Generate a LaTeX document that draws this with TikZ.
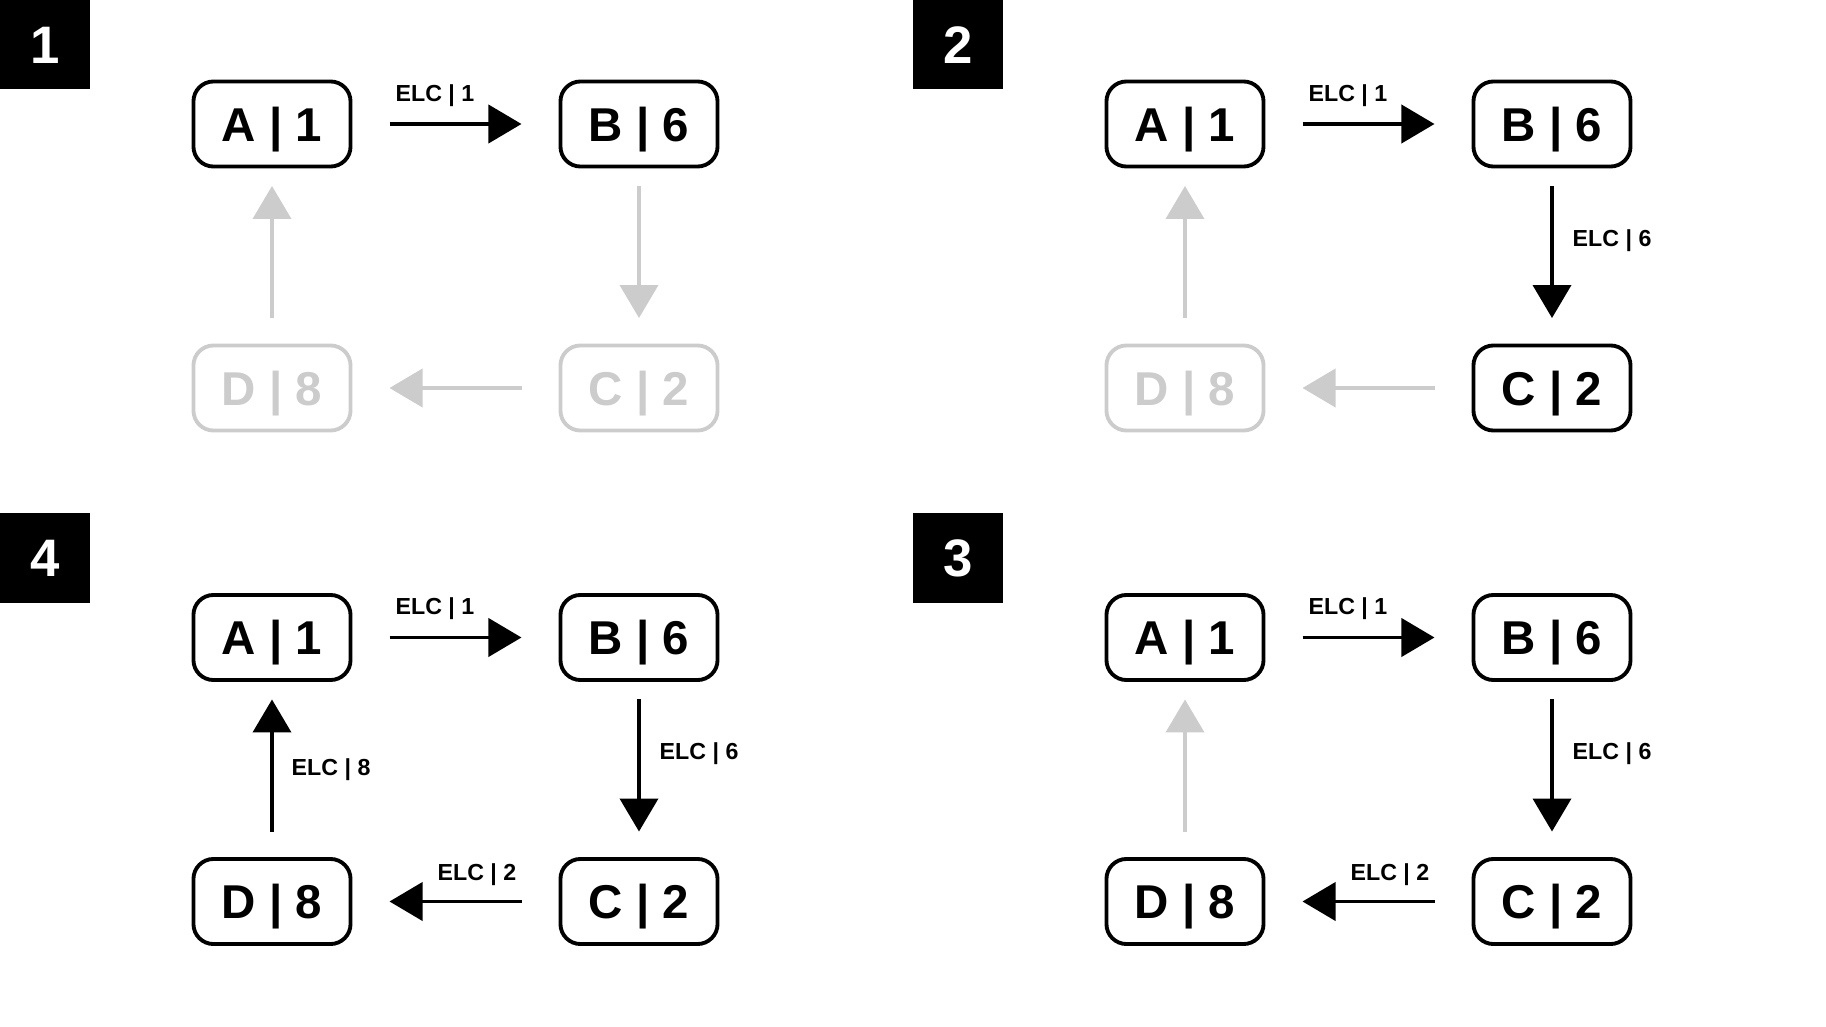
\documentclass[tikz,border=0pt]{standalone}
\usepackage{fontspec}
\setmainfont{Liberation Sans}
\usetikzlibrary{arrows.meta}
\definecolor{faded}{HTML}{CCCCCC}
\tikzset{
  cell/.style={draw, line width=1.1pt, rounded corners=0.2cm, minimum width=1.57cm, minimum height=0.85cm, inner sep=0pt, text height=9.7pt, text depth=0pt, font=\fontsize{13.5}{14}\selectfont\bfseries},
  greyed/.style={draw=faded, text=faded},
  link/.style={line width=1.1pt, -{Triangle[length=0.33cm,width=0.38cm]}},
  hlink/.style={shorten <=0.37cm, shorten >=0.37cm},
  vdown/.style={shorten <=0.175cm, shorten >=0.255cm},
  vup/.style={shorten <=0.255cm, shorten >=0.175cm},
  elc/.style={font=\fontsize{6.6}{7}\selectfont\bfseries, inner sep=0pt, text height=4.7pt, text depth=0pt},
  stage/.style={fill=black, text=white, minimum width=0.9cm, minimum height=0.89cm, inner sep=0pt, text height=10.7pt, text depth=0pt, font=\fontsize{15}{16}\selectfont\bfseries}
}
\begin{document}
\begin{tikzpicture}[x=0.01cm, y=-0.01cm]
\useasboundingbox (0,0) rectangle (1826,1027);

% step 1
\node[stage] (s1) at (45,44.5) {1};
\node[cell] (a1) at (272,124) {A | 1};
\node[cell] (b1) at (639,124) {B | 6};
\node[cell, greyed] (c1) at (639,388) {C | 2};
\node[cell, greyed] (d1) at (272,388) {D | 8};
\node[elc] (ab1) at (435,93) {ELC | 1};
\draw[link, hlink] (a1) to (b1); \draw[link, vdown, faded] (b1) to (c1); \draw[link, hlink, faded] (c1) to (d1); \draw[link, vup, faded] (d1) to (a1);

% step 2
\begin{scope}[shift={(913,0)}]
\node[stage] (s2) at (45,44.5) {2};
\node[cell] (a2) at (272,124) {A | 1};
\node[cell] (b2) at (639,124) {B | 6};
\node[cell] (c2) at (639,388) {C | 2};
\node[cell, greyed] (d2) at (272,388) {D | 8};
\node[elc] (ab2) at (435,93) {ELC | 1};
\node[elc, anchor=west] (bc2) at (659,238) {ELC | 6};
\draw[link, hlink] (a2) to (b2); \draw[link, vdown] (b2) to (c2); \draw[link, hlink, faded] (c2) to (d2); \draw[link, vup, faded] (d2) to (a2);
\end{scope}

% step 4
\begin{scope}[shift={(0,513.5)}]
\node[stage] (s4) at (45,44.5) {4};
\node[cell] (a4) at (272,124) {A | 1};
\node[cell] (b4) at (639,124) {B | 6};
\node[cell] (c4) at (639,388) {C | 2};
\node[cell] (d4) at (272,388) {D | 8};
\node[elc] (ab4) at (435,93) {ELC | 1};
\node[elc, anchor=west] (bc4) at (659,238) {ELC | 6};
\node[elc] (cd4) at (477,359) {ELC | 2};
\node[elc, anchor=west] (da4) at (291,254) {ELC | 8};
\draw[link, hlink] (a4) to (b4); \draw[link, vdown] (b4) to (c4); \draw[link, hlink] (c4) to (d4); \draw[link, vup] (d4) to (a4);
\end{scope}

% step 3
\begin{scope}[shift={(913,513.5)}]
\node[stage] (s3) at (45,44.5) {3};
\node[cell] (a3) at (272,124) {A | 1};
\node[cell] (b3) at (639,124) {B | 6};
\node[cell] (c3) at (639,388) {C | 2};
\node[cell] (d3) at (272,388) {D | 8};
\node[elc] (ab3) at (435,93) {ELC | 1};
\node[elc, anchor=west] (bc3) at (659,238) {ELC | 6};
\node[elc] (cd3) at (477,359) {ELC | 2};
\draw[link, hlink] (a3) to (b3); \draw[link, vdown] (b3) to (c3); \draw[link, hlink] (c3) to (d3); \draw[link, vup, faded] (d3) to (a3);
\end{scope}
\end{tikzpicture}
\end{document}
